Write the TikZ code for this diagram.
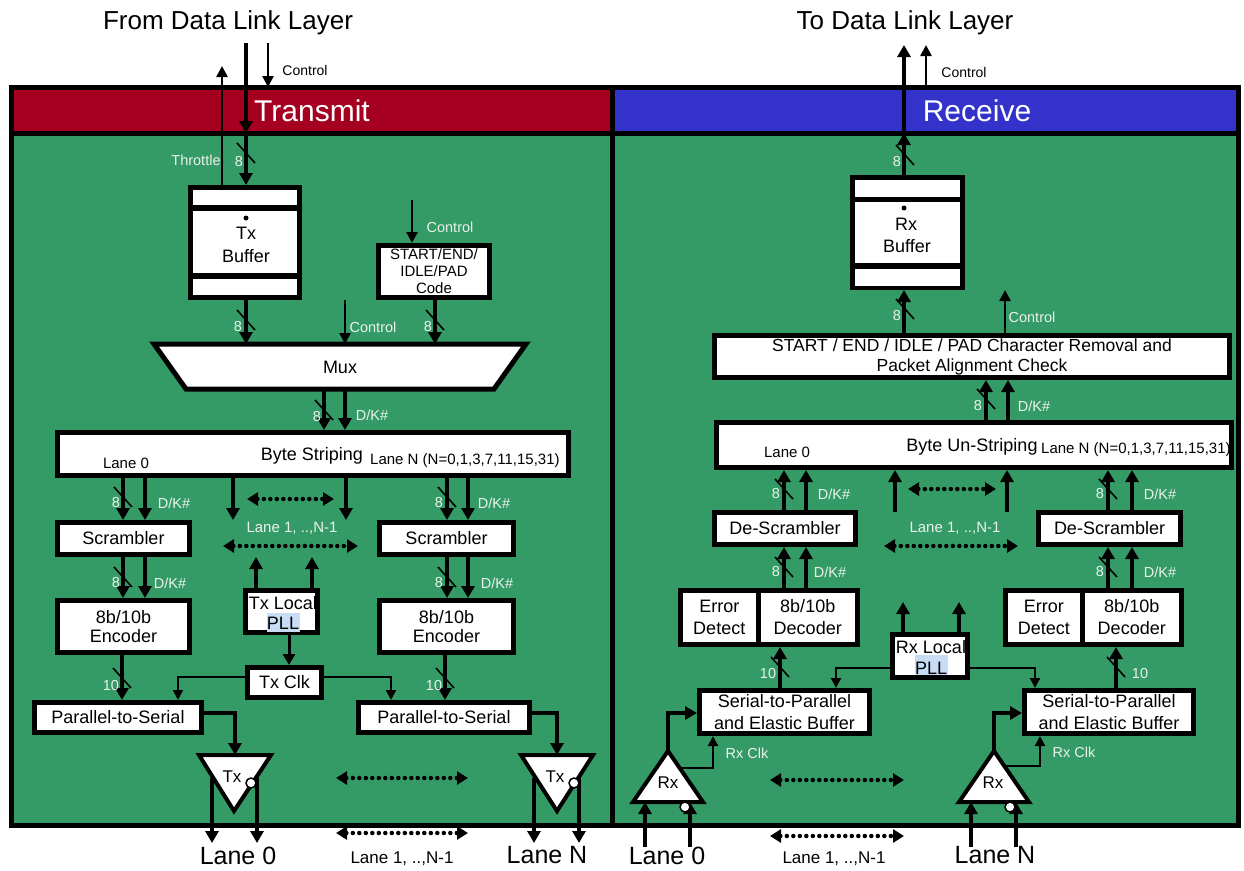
\documentclass[tikz,border=0pt]{standalone}
\usepackage{fontspec}
\setmainfont{Liberation Sans}
\usetikzlibrary{arrows.meta,calc}
\definecolor{hdrred}{RGB}{166,0,33}
\definecolor{hdrblue}{RGB}{51,51,204}
\definecolor{bggreen}{RGB}{52,155,102}
\definecolor{lblc}{RGB}{235,242,235}
\definecolor{pllhl}{RGB}{200,220,245}
\newcommand{\fs}[2]{\fontsize{#1}{#2}\selectfont}
\newcommand{\mybox}[7][]{\node[blk,minimum width={#5-#3-5},minimum height={#6-#4-5},#1] (#2) at ({(#3+#5)/2},{(#4+#6)/2}) {#7};}
\tikzset{
 blk/.style={draw,line width=5pt,fill=white,inner sep=0pt,align=center,font=\fs{18}{20}},
 bus/.style={line width=4pt,-{Triangle[length=12pt,width=13pt]}},
 sig/.style={line width=2.5pt,-{Triangle[length=11pt,width=11pt]}},
 clk/.style={line width=2pt,-{Triangle[length=10pt,width=10pt]}},
 dotarr/.style={line width=4.5pt,line cap=round,dash pattern=on 0pt off 6.5pt,{Triangle[length=11pt,width=13pt]}-{Triangle[length=11pt,width=13pt]}},
 lbl/.style={text=lblc,font=\fs{14.5}{16},inner sep=0pt},
 blbl/.style={text=black,font=\fs{14}{16},inner sep=0pt},
 txt/.style={font=\fs{18}{20},inner sep=0pt},
 tri/.style={draw,line width=4pt,fill=white,line join=miter},
 bub/.style={circle,draw,line width=1.5pt,fill=white,minimum size=10pt,inner sep=0pt},
 tk/.pic={\draw[line width=1.6pt] (-9,-10) -- (9,10);},
}
\begin{document}
\begin{tikzpicture}[x=1pt,y=-1pt]
\useasboundingbox (0,0) rectangle (1244,870);
% ---------- frame ----------
\fill[bggreen] (11,133) rectangle (1238,825);
\fill[hdrred] (11,87) rectangle (612,133);
\fill[hdrblue] (612,87) rectangle (1238,133);
\draw[line width=5pt] (11,87) rectangle (1238,825);
\draw[line width=5pt] (11,133) -- (1238,133);
\draw[line width=5pt] (612,87) -- (612,825);
\node[text=white,font=\fs{30}{34}] (hTx) at (312,111) {Transmit};
\node[text=white,font=\fs{30}{34}] (hRx) at (977,111) {Receive};
\node[font=\fs{26}{30}] (fromDL) at (228,23) {From Data Link Layer};
\node[font=\fs{26}{30}] (toDL) at (905,23) {To Data Link Layer};

% ---------- column coordinates ----------
\coordinate (thrEnd) at (222,66);
\coordinate (txDin) at (246,43);
\coordinate (hdrTx) at (246,133);
\coordinate (txCin) at (268,43);
\coordinate (txCend) at (268,87);
\coordinate (codeCin) at (412,200);
\coordinate (muxCin) at (345,300);
\coordinate (cCd) at (435,0);
\coordinate (cM8) at (324,0);
\coordinate (cMD) at (345,0);
\coordinate (cL8) at (123,0);
\coordinate (cLD) at (145,0);
\coordinate (cN8) at (447,0);
\coordinate (cND) at (468,0);
\coordinate (cMid1) at (233,0);
\coordinate (cMid2) at (346,0);
\coordinate (cP1) at (256,0);
\coordinate (cP2) at (312,0);
\coordinate (cPC) at (289,0);
\coordinate (ckL) at (178,677);
\coordinate (ckR) at (391,677);
\coordinate (cE10L) at (122,0);
\coordinate (cE10R) at (445,0);
\coordinate (pL) at (235,713);
\coordinate (pR) at (557,713);

% ---------- Tx buffer ----------
\node[fill=black,inner sep=0pt,outer sep=0pt,minimum width=114pt,minimum height=115pt] (txbuf) at (245,242.5) {};
\fill[white] (193,190) rectangle (297,205);
\fill[white] (193,211) rectangle (297,273);
\fill[white] (193,279) rectangle (297,295);
\fill (246,218) circle (2.5);
\node[txt] (txbufa) at (246,233) {Tx};
\node[txt] (txbufb) at (246,256) {Buffer};

% ---------- Tx boxes ----------
\mybox[font=\fs{15}{17}]{code}{376}{243}{492}{300}{START/END/\\IDLE/PAD\\Code}
\coordinate (mTL) at (154,344);
\coordinate (mTR) at (526,344);
\coordinate (mBR) at (494,389);
\coordinate (mBL) at (186,389);
\draw[line width=5pt,fill=white,line join=miter] (mTL) -- (mTR) -- (mBR) -- (mBL) -- cycle;
\node[txt] (mux) at (340,367) {Mux};
\mybox{bs}{55}{430}{571}{478}{}
\node[txt] (bsT) at (312,456) {Byte Striping};
\node[font=\fs{15}{17},inner sep=0pt] (bsL0) at (126,463) {Lane 0};
\node[font=\fs{15}{17},inner sep=0pt,anchor=west] (bsLN) at (370,461) {Lane N (N=0,1,3,7,11,15,31)};
\mybox{scrL}{55}{520}{192}{557}{Scrambler}
\mybox{scrR}{377}{520}{516}{557}{Scrambler}
\mybox[font=\fs{18}{19}]{encL}{55}{598}{192}{655}{8b/10b\\Encoder}
\mybox[font=\fs{18}{19}]{encR}{377}{598}{516}{655}{8b/10b\\Encoder}
\mybox{txpll}{243}{588}{320}{635}{}
\fill[pllhl] (267,613) rectangle (300,632);
\node[txt] (txpllA) at (283,603) {Tx Local};
\node[txt] (txpllB) at (283,623) {PLL};
\mybox{txclk}{245}{665}{324}{700}{Tx Clk}
\mybox{p2sL}{32}{700}{204}{735}{Parallel-to-Serial}
\mybox{p2sR}{356}{700}{532}{735}{Parallel-to-Serial}

% ---------- Tx connectors ----------
\draw[sig] (txbuf.north -| thrEnd) -- (thrEnd);
\draw[bus] (txDin) -- (hdrTx);
\draw[bus] (hdrTx) -- (txbuf.north -| hdrTx);
\draw[sig] (txCin) -- (txCend);
\node[blbl] (lctl1) at (305,70) {Control};
\node[lbl] (lthr) at (196,160) {Throttle};
\node[lbl] (l8a) at (239,162) {8};
\pic at (246,153) {tk};

\draw[sig] (codeCin) -- (code.north -| codeCin);
\node[lbl] (lctl2) at (450,227) {Control};

\draw[bus] (txbuf.south -| hdrTx) -- (mTL -| hdrTx);
\pic at (246,320) {tk};
\node[lbl] (l8b) at (238,327) {8};
\draw[sig] (muxCin) -- (mTL -| muxCin);
\node[lbl] (lctl3) at (373,327) {Control};
\draw[bus] (code.south -| cCd) -- (mTL -| cCd);
\pic at (435,320) {tk};
\node[lbl] (l8c) at (428,327) {8};

\draw[bus] (mBL -| cM8) -- (bs.north -| cM8);
\draw[bus] (mBL -| cMD) -- (bs.north -| cMD);
\pic at (324,410) {tk};
\node[lbl] (l8d) at (317,417) {8};
\node[lbl] (ldk1) at (372,415) {D/K\#};

\draw[bus] (bs.south -| cL8) -- (scrL.north -| cL8);
\draw[bus] (bs.south -| cLD) -- (scrL.north -| cLD);
\pic at (123,497) {tk};
\node[lbl] (l8e) at (116,503) {8};
\node[lbl] (ldk2) at (174,503) {D/K\#};
\draw[bus] (bs.south -| cN8) -- (scrR.north -| cN8);
\draw[bus] (bs.south -| cND) -- (scrR.north -| cND);
\pic at (447,497) {tk};
\node[lbl] (l8f) at (439,503) {8};
\node[lbl] (ldk3) at (494,503) {D/K\#};
\draw[bus] (bs.south -| cMid1) -- (scrL.north -| cMid1);
\draw[bus] (bs.south -| cMid2) -- (scrL.north -| cMid2);
\coordinate (d1a) at (247,499);
\coordinate (d1b) at (334,499);
\draw[dotarr] (d1a) -- (d1b);
\node[lbl,font=\fs{15}{17}] (llaneT) at (292,528) {Lane 1, ..,N-1};
\coordinate (d2a) at (223,546);
\coordinate (d2b) at (358,546);
\draw[dotarr] (d2a) -- (d2b);
\draw[bus] (txpll.north -| cP1) -- (scrL.south -| cP1);
\draw[bus] (txpll.north -| cP2) -- (scrL.south -| cP2);

\draw[bus] (scrL.south -| cL8) -- (encL.north -| cL8);
\draw[bus] (scrL.south -| cLD) -- (encL.north -| cLD);
\pic at (123,577) {tk};
\node[lbl] (l8g) at (116,583) {8};
\node[lbl] (ldk4) at (170,583) {D/K\#};
\draw[bus] (scrR.south -| cN8) -- (encR.north -| cN8);
\draw[bus] (scrR.south -| cND) -- (encR.north -| cND);
\pic at (447,577) {tk};
\node[lbl] (l8h) at (439,583) {8};
\node[lbl] (ldk5) at (497,583) {D/K\#};

\draw[line width=3pt,-{Triangle[length=11pt,width=12pt]}] (txpll.south -| cPC) -- (txclk.north -| cPC);
\draw[clk] (ckL -| txclk.west) -- (ckL) -- (p2sL.north -| ckL);
\draw[clk] (ckR -| txclk.east) -- (ckR) -- (p2sR.north -| ckR);

\draw[bus] (encL.south -| cE10L) -- (p2sL.north -| cE10L);
\pic at (122,678) {tk};
\node[lbl] (l10a) at (111,685) {10};
\draw[bus] (encR.south -| cE10R) -- (p2sR.north -| cE10R);
\pic at (445,678) {tk};
\node[lbl] (l10b) at (434,685) {10};

% ---------- Tx drivers ----------
\coordinate (txLtop) at (235,755);
\coordinate (txRtop) at (557,755);
\draw[bus] (pL -| p2sL.east) -- (pL) -- (txLtop);
\draw[bus] (pR -| p2sR.east) -- (pR) -- (txRtop);
\draw[tri] (199,755) -- (271,755) -- (234,811) -- cycle;
\draw[tri] (521,755) -- (593,755) -- (557,811) -- cycle;
\node[font=\fs{17}{19},inner sep=0pt] (txL) at (232,777) {Tx};
\node[font=\fs{17}{19},inner sep=0pt] (txR) at (555,777) {Tx};
\coordinate (oL1) at (212,778);
\coordinate (oL2) at (257,778);
\coordinate (oR1) at (534,778);
\coordinate (oR2) at (579,778);
\coordinate (lane0T) at (0,843);
\draw[bus] (oL1) -- (oL1 |- lane0T);
\draw[bus] (oL2) -- (oL2 |- lane0T);
\draw[bus] (oR1) -- (oR1 |- lane0T);
\draw[bus] (oR2) -- (oR2 |- lane0T);
\node[bub] (bubTL) at (251,783) {};
\node[bub] (bubTR) at (574,783) {};
\coordinate (d3a) at (336,778);
\coordinate (d3b) at (468,778);
\draw[dotarr] (d3a) -- (d3b);
\coordinate (d4a) at (336,833);
\coordinate (d4b) at (468,833);
\draw[dotarr] (d4a) -- (d4b);
\node[font=\fs{25}{28},inner sep=0pt] (tL0) at (238,856) {Lane 0};
\node[font=\fs{25}{28},inner sep=0pt] (tLN) at (547,855) {Lane N};
\node[font=\fs{17}{19},inner sep=0pt] (tL1) at (402,859) {Lane 1, ..,N-1};

% ================= RECEIVE =================
\coordinate (rxDo) at (904,45);
\coordinate (hdrRx) at (904,133);
\coordinate (rxCs) at (926,87);
\coordinate (rxCe) at (926,45);
\coordinate (cRC) at (1005,0);
\coordinate (cU8) at (986,0);
\coordinate (cUD) at (1008,0);
\coordinate (cRL8) at (784,0);
\coordinate (cRLD) at (806,0);
\coordinate (rm1) at (895,512);
\coordinate (rm2) at (1007,512);
\coordinate (cRN8) at (1108,0);
\coordinate (cRND) at (1132,0);
\coordinate (rpE1) at (903,602);
\coordinate (rpE2) at (959,602);
\coordinate (rkL) at (836,668);
\coordinate (rkR) at (1035,668);
\coordinate (cD10L) at (780,0);
\coordinate (cD10R) at (1116,0);

% ---------- Rx buffer ----------
\node[fill=black,inner sep=0pt,outer sep=0pt,minimum width=115pt,minimum height=115pt] (rxbuf) at (907.5,232.5) {};
\fill[white] (855,180) rectangle (960,197);
\fill[white] (855,202) rectangle (960,263);
\fill[white] (855,269) rectangle (960,286);
\fill (904,208) circle (2.5);
\node[txt] (rxbufa) at (906,224) {Rx};
\node[txt] (rxbufb) at (907,246) {Buffer};

% ---------- Rx boxes ----------
\mybox[font=\fs{17.5}{20}]{rem}{712}{333}{1232}{380}{START / END / IDLE / PAD Character Removal and\\Packet Alignment Check}
\mybox{ubs}{714}{420}{1234}{470}{}
\node[txt] (ubsT) at (972,447) {Byte Un-Striping};
\node[font=\fs{15}{17},inner sep=0pt] (ubsL0) at (787,452) {Lane 0};
\node[font=\fs{15}{17},inner sep=0pt,anchor=west] (ubsLN) at (1041,450) {Lane N (N=0,1,3,7,11,15,31)};
\mybox{dscL}{712}{510}{858}{547}{De-Scrambler}
\mybox{dscR}{1036}{510}{1183}{547}{De-Scrambler}
\mybox[font=\fs{18}{22}]{errL}{678}{588}{760.5}{647}{Error\\Detect}
\mybox[font=\fs{18}{22}]{decL}{755.5}{588}{860}{647}{8b/10b\\Decoder}
\mybox[font=\fs{18}{22}]{errR}{1003}{588}{1084.5}{647}{Error\\Detect}
\mybox[font=\fs{18}{22}]{decR}{1079.5}{588}{1184}{647}{8b/10b\\Decoder}
\mybox{rxpll}{890}{632}{970}{680}{}
\fill[pllhl] (915,655) rectangle (948,675);
\node[txt] (rxpllA) at (931,647) {Rx Local};
\node[txt] (rxpllB) at (931,668) {PLL};
\mybox[font=\fs{18}{22}]{s2pL}{697}{688}{872}{736}{Serial-to-Parallel\\and Elastic Buffer}
\mybox[font=\fs{18}{22}]{s2pR}{1022}{688}{1196}{736}{Serial-to-Parallel\\and Elastic Buffer}

% ---------- Rx connectors ----------
\draw[bus] (rxbuf.north -| hdrRx) -- (hdrRx);
\draw[bus] (hdrRx) -- (rxDo);
\draw[sig] (rxCs) -- (rxCe);
\node[blbl] (lctl4) at (964,72) {Control};
\pic at (905,155) {tk};
\node[lbl] (l8i) at (897,162) {8};

\draw[bus] (rem.north -| hdrRx) -- (rxbuf.south -| hdrRx);
\pic at (905,309) {tk};
\node[lbl] (l8j) at (897,316) {8};
\draw[sig] (rem.north -| cRC) -- (rxbuf.south -| cRC);
\node[lbl] (lctl5) at (1032,317) {Control};

\draw[bus] (ubs.north -| cU8) -- (rem.south -| cU8);
\draw[bus] (ubs.north -| cUD) -- (rem.south -| cUD);
\pic at (986,399) {tk};
\node[lbl] (l8k) at (978,406) {8};
\node[lbl] (ldk6) at (1034,406) {D/K\#};

\draw[bus] (dscL.north -| cRL8) -- (ubs.south -| cRL8);
\draw[bus] (dscL.north -| cRLD) -- (ubs.south -| cRLD);
\pic at (784,489) {tk};
\node[lbl] (l8l) at (776,494) {8};
\node[lbl] (ldk7) at (834,494) {D/K\#};
\draw[bus] (dscR.north -| cRN8) -- (ubs.south -| cRN8);
\draw[bus] (dscR.north -| cRND) -- (ubs.south -| cRND);
\pic at (1108,489) {tk};
\node[lbl] (l8m) at (1100,494) {8};
\node[lbl] (ldk8) at (1160,494) {D/K\#};
\draw[bus] (rm1) -- (ubs.south -| rm1);
\draw[bus] (rm2) -- (ubs.south -| rm2);
\coordinate (d5a) at (908,489);
\coordinate (d5b) at (996,489);
\draw[dotarr] (d5a) -- (d5b);
\node[lbl,font=\fs{15}{17}] (llaneR) at (955,528) {Lane 1, ..,N-1};
\coordinate (d6a) at (884,546);
\coordinate (d6b) at (1018,546);
\draw[dotarr] (d6a) -- (d6b);

\draw[bus] (decL.north -| cRL8) -- (dscL.south -| cRL8);
\draw[bus] (decL.north -| cRLD) -- (dscL.south -| cRLD);
\pic at (784,567) {tk};
\node[lbl] (l8n) at (776,572) {8};
\node[lbl] (ldk9) at (830,572) {D/K\#};
\draw[bus] (decR.north -| cRN8) -- (dscR.south -| cRN8);
\draw[bus] (decR.north -| cRND) -- (dscR.south -| cRND);
\pic at (1108,567) {tk};
\node[lbl] (l8o) at (1100,572) {8};
\node[lbl] (ldk10) at (1160,572) {D/K\#};

\draw[bus] (rxpll.north -| rpE1) -- (rpE1);
\draw[bus] (rxpll.north -| rpE2) -- (rpE2);
\draw[clk] (rkL -| rxpll.west) -- (rkL) -- (s2pL.north -| rkL);
\draw[clk] (rkR -| rxpll.east) -- (rkR) -- (s2pR.north -| rkR);

\draw[bus] (s2pL.north -| cD10L) -- (decL.south -| cD10L);
\pic at (780,667) {tk};
\node[lbl] (l10c) at (768,673) {10};
\draw[bus] (s2pR.north -| cD10R) -- (decR.south -| cD10R);
\pic at (1116,667) {tk};
\node[lbl] (l10d) at (1140,673) {10};

% ---------- Rx receivers ----------
\draw[tri] (668,751) -- (703,802) -- (633,802) -- cycle;
\draw[tri] (994,751) -- (1029,802) -- (959,802) -- cycle;
\node[font=\fs{17}{19},inner sep=0pt] (rxL) at (668,783) {Rx};
\node[font=\fs{17}{19},inner sep=0pt] (rxR) at (993,783) {Rx};
\coordinate (rxLa) at (668,751);
\coordinate (rxLk) at (668,713);
\coordinate (rxRa) at (994,751);
\coordinate (rxRk) at (994,713);
\draw[bus] (rxLa) -- (rxLk) -- (rxLk -| s2pL.west);
\draw[bus] (rxRa) -- (rxRk) -- (rxRk -| s2pR.west);
\coordinate (rcL1) at (681,768);
\coordinate (rcL2) at (713,768);
\coordinate (rcR1) at (1006,766);
\coordinate (rcR2) at (1040,766);
\draw[clk] (rcL1) -- (rcL2) -- (s2pL.south -| rcL2);
\draw[clk] (rcR1) -- (rcR2) -- (s2pR.south -| rcR2);
\node[lbl] (lrxc1) at (747,753) {Rx Clk};
\node[lbl] (lrxc2) at (1074,752) {Rx Clk};
\coordinate (iL1) at (645,847);
\coordinate (iL2) at (690,847);
\coordinate (iR1) at (971,847);
\coordinate (iR2) at (1016,847);
\coordinate (rxBase) at (0,802);
\draw[bus] (iL1) -- (iL1 |- rxBase);
\draw[bus] (iL2) -- (iL2 |- rxBase);
\draw[bus] (iR1) -- (iR1 |- rxBase);
\draw[bus] (iR2) -- (iR2 |- rxBase);
\node[bub] (bubRL) at (685,807) {};
\node[bub] (bubRR) at (1010,807) {};
\coordinate (d7a) at (770,780);
\coordinate (d7b) at (904,780);
\draw[dotarr] (d7a) -- (d7b);
\coordinate (d8a) at (770,836);
\coordinate (d8b) at (904,836);
\draw[dotarr] (d8a) -- (d8b);
\node[font=\fs{25}{28},inner sep=0pt] (rL0) at (667,856) {Lane 0};
\node[font=\fs{25}{28},inner sep=0pt] (rLN) at (995,855) {Lane N};
\node[font=\fs{17}{19},inner sep=0pt] (rL1) at (834,859) {Lane 1, ..,N-1};
\end{tikzpicture}
\end{document}
